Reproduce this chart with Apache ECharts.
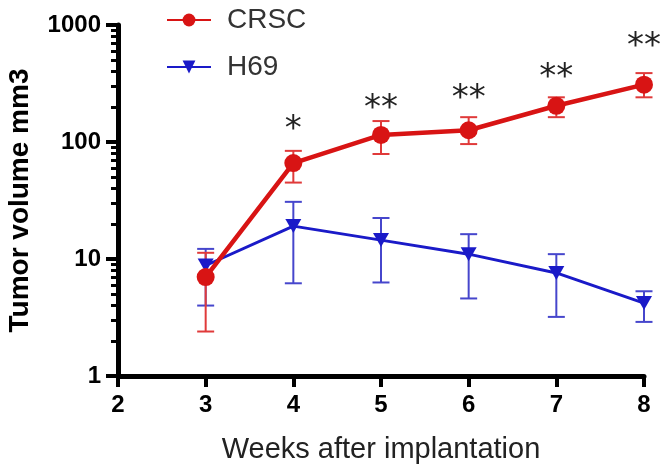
<!DOCTYPE html>
<html><head><meta charset="utf-8">
<script src="https://cdn.jsdelivr.net/npm/echarts@6/dist/echarts.min.js"></script>
<style>html,body{margin:0;padding:0;background:#fff}#c{width:666px;height:467px}</style>
</head><body><div id="c"></div>
<script>
// ---- data ----
const weeks = [3, 4, 5, 6, 7, 8];
const crscMean = [7.0, 66, 115, 126, 204, 309];
const crscLow = [2.4, 45, 79, 96, 163, 241];
const crscHigh = [11.3, 84, 151, 163, 241, 388];
const h69Mean = [8.8, 19.1, 14.5, 11, 7.6, 4.2];
const h69Low = [4.0, 6.2, 6.3, 4.6, 3.2, 2.9];
const h69High = [12.2, 30.8, 22.4, 16.3, 11, 5.3];
const sigWeeks = [4, 5, 6, 7, 8];
const sigMarks = ['*', '**', '**', '**', '**'];
const sigLevels = [145, 220, 267, 405, 745];
const yMinorTicks = [2,3,4,5,6,7,8,9,20,30,40,50,60,70,80,90,200,300,400,500,600,700,800,900];
const xMin = 2, xMax = 8, yMin = 1, yMax = 1000;

const RED = '#d81414', RED_ERR = '#e03a3a';
const BLUE = '#1a1ac8', BLUE_ERR = '#4646cc';
const FONT = 'Liberation Sans, Arial, sans-serif';

function errData(lo, hi) { return weeks.map((w, i) => [w, lo[i], hi[i]]); }
function errSeries(name, lo, hi, color) {
  return {
    type: 'custom', name: name + ' err', clip: false, silent: true,
    data: errData(lo, hi),
    renderItem: function (params, api) {
      const x = api.value(0);
      const pLo = api.coord([x, api.value(1)]);
      const pHi = api.coord([x, api.value(2)]);
      const cap = 8.5;
      const st = { stroke: color, lineWidth: 2 };
      return { type: 'group', children: [
        { type: 'line', shape: { x1: pLo[0], y1: pLo[1], x2: pHi[0], y2: pHi[1] }, style: st },
        { type: 'line', shape: { x1: pLo[0]-cap, y1: pLo[1], x2: pLo[0]+cap, y2: pLo[1] }, style: st },
        { type: 'line', shape: { x1: pHi[0]-cap, y1: pHi[1], x2: pHi[0]+cap, y2: pHi[1] }, style: st }
      ]};
    }
  };
}

const chart = echarts.init(document.getElementById('c'), null, { renderer: 'canvas' });
chart.setOption({
  animation: false,
  backgroundColor: '#fff',
  grid: { left: 118, right: 22, top: 25, bottom: 91, containLabel: false, outerBoundsMode: 'none' },
  legend: {
    orient: 'vertical', left: 161, top: 1, itemWidth: 44, itemHeight: 16, itemGap: 19,
    data: ['CRSC', 'H69'],
    textStyle: { fontSize: 28, color: '#333', fontFamily: FONT, padding: [0, 0, 0, 11] }
  },
  xAxis: {
    type: 'value', min: xMin, max: xMax, interval: 1,
    name: 'Weeks after implantation', nameLocation: 'middle', nameGap: 59, nameMoveOverlap: false,
    nameTextStyle: { fontSize: 29, color: '#222', fontFamily: FONT },
    axisLine: { onZero: false, lineStyle: { color: '#000', width: 5 } },
    axisTick: { show: true, length: 11, lineStyle: { color: '#000', width: 4 } },
    axisLabel: { fontSize: 24, fontWeight: 'bold', color: '#000', fontFamily: FONT, margin: 17 },
    splitLine: { show: false }
  },
  yAxis: [{
    type: 'log', logBase: 10, min: yMin, max: yMax,
    name: 'Tumor volume mm3', nameLocation: 'middle', nameGap: 84, nameMoveOverlap: false,
    nameTextStyle: { fontSize: 28, fontWeight: 'bold', color: '#000', fontFamily: FONT },
    axisLine: { onZero: false, lineStyle: { color: '#000', width: 5 } },
    axisTick: { show: true, length: 12, lineStyle: { color: '#000', width: 4 } },
    axisLabel: { fontSize: 24, fontWeight: 'bold', color: '#000', fontFamily: FONT, margin: 17,
                 formatter: v => String(v) },
    splitLine: { show: false }
  }, {
    type: 'log', logBase: 10, min: yMin, max: yMax, position: 'left', offset: 0,
    axisLine: { show: false },
    axisTick: { show: true, length: 7, customValues: yMinorTicks, lineStyle: { color: '#000', width: 3 } },
    axisLabel: { show: false },
    splitLine: { show: false }
  }],
  series: [
    errSeries('H69', h69Low, h69High, BLUE_ERR),
    {
      name: 'H69', type: 'line', data: weeks.map((w, i) => [w, h69Mean[i]]),
      symbol: 'triangle', symbolRotate: 180, symbolSize: [16, 14],
      lineStyle: { color: BLUE, width: 3 }, itemStyle: { color: BLUE }, z: 3
    },
    errSeries('CRSC', crscLow, crscHigh, RED_ERR),
    {
      name: 'CRSC', type: 'line', data: weeks.map((w, i) => [w, crscMean[i]]),
      symbol: 'circle', symbolSize: 18,
      lineStyle: { color: RED, width: 4.5 }, itemStyle: { color: RED }, z: 4
    },
    {
      type: 'custom', name: 'sig', clip: false, silent: true,
      data: sigWeeks.map((w, i) => [w, sigLevels[i], i]),
      renderItem: function (params, api) {
        const p = api.coord([api.value(0), api.value(1)]);
        return { type: 'text', x: p[0], y: p[1] + 7,
          style: { text: sigMarks[api.value(2)], fill: '#222', align: 'center', verticalAlign: 'middle',
                   font: '34px "DejaVu Sans"' } };
      }
    }
  ]
});
</script></body></html>
